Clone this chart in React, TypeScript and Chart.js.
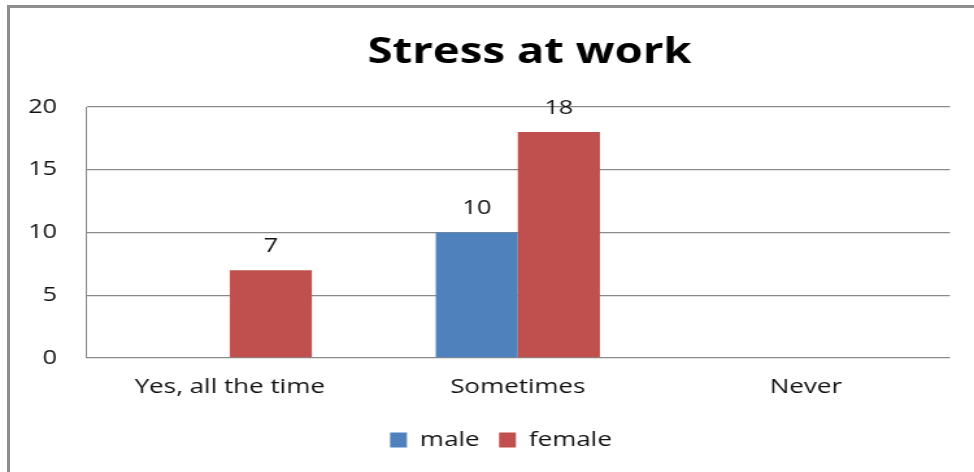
import React, { useEffect, useRef } from "react";
import { Chart, registerables } from "chart.js";

Chart.register(...registerables);

const categories = ["Yes, all the time", "Sometimes", "Never"];
const maleValues = [0, 10, 0];
const femaleValues = [7, 18, 0];
const yTicks = [0, 5, 10, 15, 20];
const titleText = "Stress at work";

const FONT = "'Open Sans', 'Noto Sans', sans-serif";
const VIEW_W = 974;
const VIEW_H = 472;
const LOGICAL_W = 750; // drawn narrower, then stretched horizontally like the reference

const dataLabelPlugin = {
  id: "dataLabels",
  afterDatasetsDraw(chart: any) {
    const ctx = chart.ctx;
    ctx.save();
    ctx.font = `19.5px ${FONT}`;
    ctx.fillStyle = "#111";
    ctx.textAlign = "center";
    ctx.textBaseline = "middle";
    chart.data.datasets.forEach((ds: any, i: number) => {
      const meta = chart.getDatasetMeta(i);
      meta.data.forEach((bar: any, j: number) => {
        const v = ds.data[j];
        if (!v) return;
        ctx.fillText(String(v), bar.x, bar.y - 24);
      });
    });
    ctx.restore();
  },
};

const shiftPlugin = {
  id: "boxShift",
  afterLayout(chart: any) {
    if (chart.legend) {
      chart.legend.left += 34;
    }
    if (chart.titleBlock) {
      chart.titleBlock.left += 78;
    }
  },
};

export default function App() {
  const canvasRef = useRef<HTMLCanvasElement | null>(null);

  useEffect(() => {
    if (!canvasRef.current) return;
    const chart = new Chart(canvasRef.current, {
      type: "bar",
      data: {
        labels: categories,
        datasets: [
          {
            label: "male",
            data: maleValues,
            backgroundColor: "#4F81BD",
            barPercentage: 1.0,
            categoryPercentage: 0.57,
          },
          {
            label: "female",
            data: femaleValues,
            backgroundColor: "#C0504D",
            barPercentage: 1.0,
            categoryPercentage: 0.57,
          },
        ],
      },
      options: {
        animation: false,
        responsive: false,
        maintainAspectRatio: false,
        layout: { padding: { left: 6, right: 18.5, top: 0, bottom: 12 } },
        plugins: {
          title: {
            display: true,
            text: titleText,
            color: "#000",
            font: { family: FONT, size: 35, weight: "bold" },
            padding: { top: 32, bottom: 33 },
          },
          legend: {
            display: true,
            position: "bottom",
            labels: {
              color: "#111",
              font: { family: FONT, size: 20 },
              boxWidth: 13,
              boxHeight: 15,
              padding: 15,
            },
          },
          tooltip: { enabled: false },
        },
        scales: {
          x: {
            grid: { display: false, drawTicks: false },
            border: { display: false },
            ticks: {
              color: "#111",
              font: { family: FONT, size: 20 },
              padding: 17,
            },
            afterFit: (s: any) => {
              s.height = 57;
            },
          },
          y: {
            min: 0,
            max: 20,
            afterBuildTicks: (s: any) => {
              s.ticks = yTicks.map((v) => ({ value: v }));
            },
            grid: { color: "#8a8a8a", lineWidth: 1.3, drawTicks: false },
            border: { display: true, color: "#8a8a8a", width: 1 },
            ticks: {
              color: "#111",
              font: { family: FONT, size: 19.5 },
              padding: 22,
            },
            afterFit: (s: any) => {
              s.width = 60;
            },
          },
        },
      },
      plugins: [dataLabelPlugin, shiftPlugin],
    });
    return () => chart.destroy();
  }, []);

  return (
    <div
      style={{
        position: "fixed",
        left: 0,
        top: 0,
        width: VIEW_W,
        height: VIEW_H,
        overflow: "hidden",
        background: "#fff",
      }}
    >
      <div
        style={{
          position: "absolute",
          left: 7,
          top: 5,
          width: 2000,
          height: 2000,
          border: "3px solid #8e8e8e",
          boxSizing: "border-box",
        }}
      />
      <canvas
        ref={canvasRef}
        width={LOGICAL_W}
        height={VIEW_H}
        style={{
          position: "absolute",
          left: 0,
          top: 0,
          width: VIEW_W,
          height: VIEW_H,
        }}
      />
    </div>
  );
}
